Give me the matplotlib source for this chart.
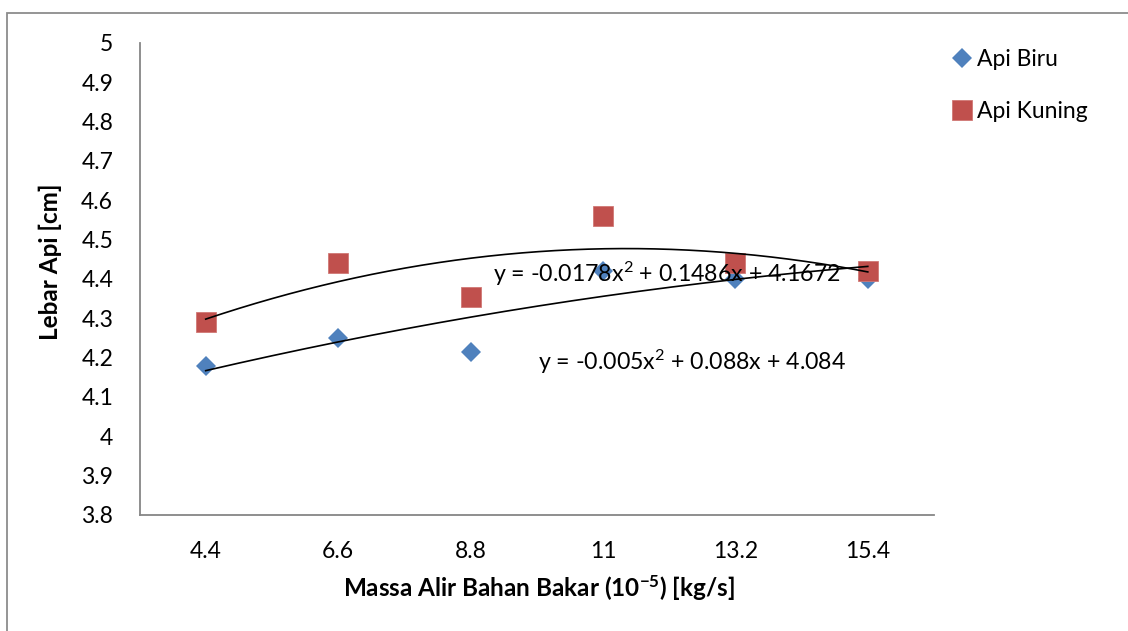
import matplotlib
matplotlib.use("Agg")
import matplotlib.pyplot as plt
import numpy as np
from matplotlib.patches import Rectangle

# Data
categories = ["4.4", "6.6", "8.8", "11", "13.2", "15.4"]
api_biru = [4.18, 4.25, 4.215, 4.42, 4.40, 4.40]
api_kuning = [4.29, 4.44, 4.355, 4.56, 4.44, 4.42]

# Polynomial trendline coefficients (x = category index 1..n): a*x^2 + b*x + c
trend_biru = [-0.005, 0.088, 4.084]
trend_kuning = [-0.0178, 0.1486, 4.1672]
label_biru = "y = -0.005x$^{2}$ + 0.088x + 4.084"
label_kuning = "y = -0.0178x$^{2}$ + 0.1486x + 4.1672"

y_ticks = [3.8, 3.9, 4.0, 4.1, 4.2, 4.3, 4.4, 4.5, 4.6, 4.7, 4.8, 4.9, 5.0]

plt.rcParams["font.family"] = ["Lato", "DejaVu Sans"]
plt.rcParams["mathtext.fontset"] = "custom"
plt.rcParams["mathtext.rm"] = "Lato"
plt.rcParams["mathtext.it"] = "Lato:italic"
plt.rcParams["mathtext.bf"] = "Lato:bold"
plt.rcParams["mathtext.default"] = "regular"

W, H = 1128, 631
fig = plt.figure(figsize=(W / 100, H / 100), dpi=100)
fig.patch.set_facecolor("white")

# chart area frame
frame = Rectangle((7 / W, -0.1), 1.2, (H - 13) / H + 0.1, transform=fig.transFigure,
                  facecolor="white", edgecolor="#8c8c8c", linewidth=1.3, zorder=0.5)
fig.add_artist(frame)

ax = fig.add_axes([139.5 / W, (H - 515) / H, (934 - 139.5) / W, (515 - 43) / H])
ax.set_facecolor("none")
ax.set_zorder(2)

x = np.arange(1, len(categories) + 1)

ax.plot(x, api_biru, linestyle="none", marker="D", markersize=9.7,
        color="#4F81BD", markeredgewidth=0, label="Api Biru", zorder=3)
ax.plot(x, api_kuning, linestyle="none", marker="s", markersize=14.2,
        color="#C0504D", markeredgecolor="#D07875", markeredgewidth=0.6,
        label="Api Kuning", zorder=3)

xs = np.linspace(x[0], x[-1], 200)
ax.plot(xs, np.polyval(trend_biru, xs), color="black", linewidth=1.2, zorder=4)
ax.plot(xs, np.polyval(trend_kuning, xs), color="black", linewidth=1.2, zorder=4)

ax.text(493 / W, (H - 274) / H, label_kuning, transform=fig.transFigure,
        fontsize=16.7, ha="left", va="center", zorder=5)
ax.text(538 / W, (H - 362) / H, label_biru, transform=fig.transFigure,
        fontsize=16.7, ha="left", va="center", zorder=5)

ax.set_xlim(0.5, len(categories) + 0.5)
ax.set_ylim(3.8, 5.0)
ax.set_xticks(x)
ax.set_xticklabels(categories)
ax.set_yticks(y_ticks)
ax.set_yticklabels([f"{v:g}" for v in y_ticks])
ax.tick_params(axis="both", length=0, labelsize=16.5, colors="black")
ax.tick_params(axis="y", pad=19)
ax.tick_params(axis="x", pad=19)

for s in ["top", "right"]:
    ax.spines[s].set_visible(False)
for s in ["left", "bottom"]:
    ax.spines[s].set_color("#868686")
    ax.spines[s].set_linewidth(1.3)

fig.text(50 / W, (H - 262) / H, "Lebar Api [cm]", rotation=90, fontsize=17.5,
         fontweight="bold", ha="center", va="center")
fig.text(539 / W, (H - 588) / H, "Massa Alir Bahan Bakar (10$^{\\mathbf{-5}}$) [kg/s]",
         fontsize=17.5, fontweight="bold", ha="center", va="center")

leg = ax.legend(loc="upper left", bbox_to_anchor=(953 / W, (H - 49) / H),
                bbox_transform=fig.transFigure, frameon=False, fontsize=16.5,
                handlelength=0.8, handletextpad=0.25, labelspacing=1.35,
                borderaxespad=0, borderpad=0)

fig.savefig("out.png", dpi=100)
